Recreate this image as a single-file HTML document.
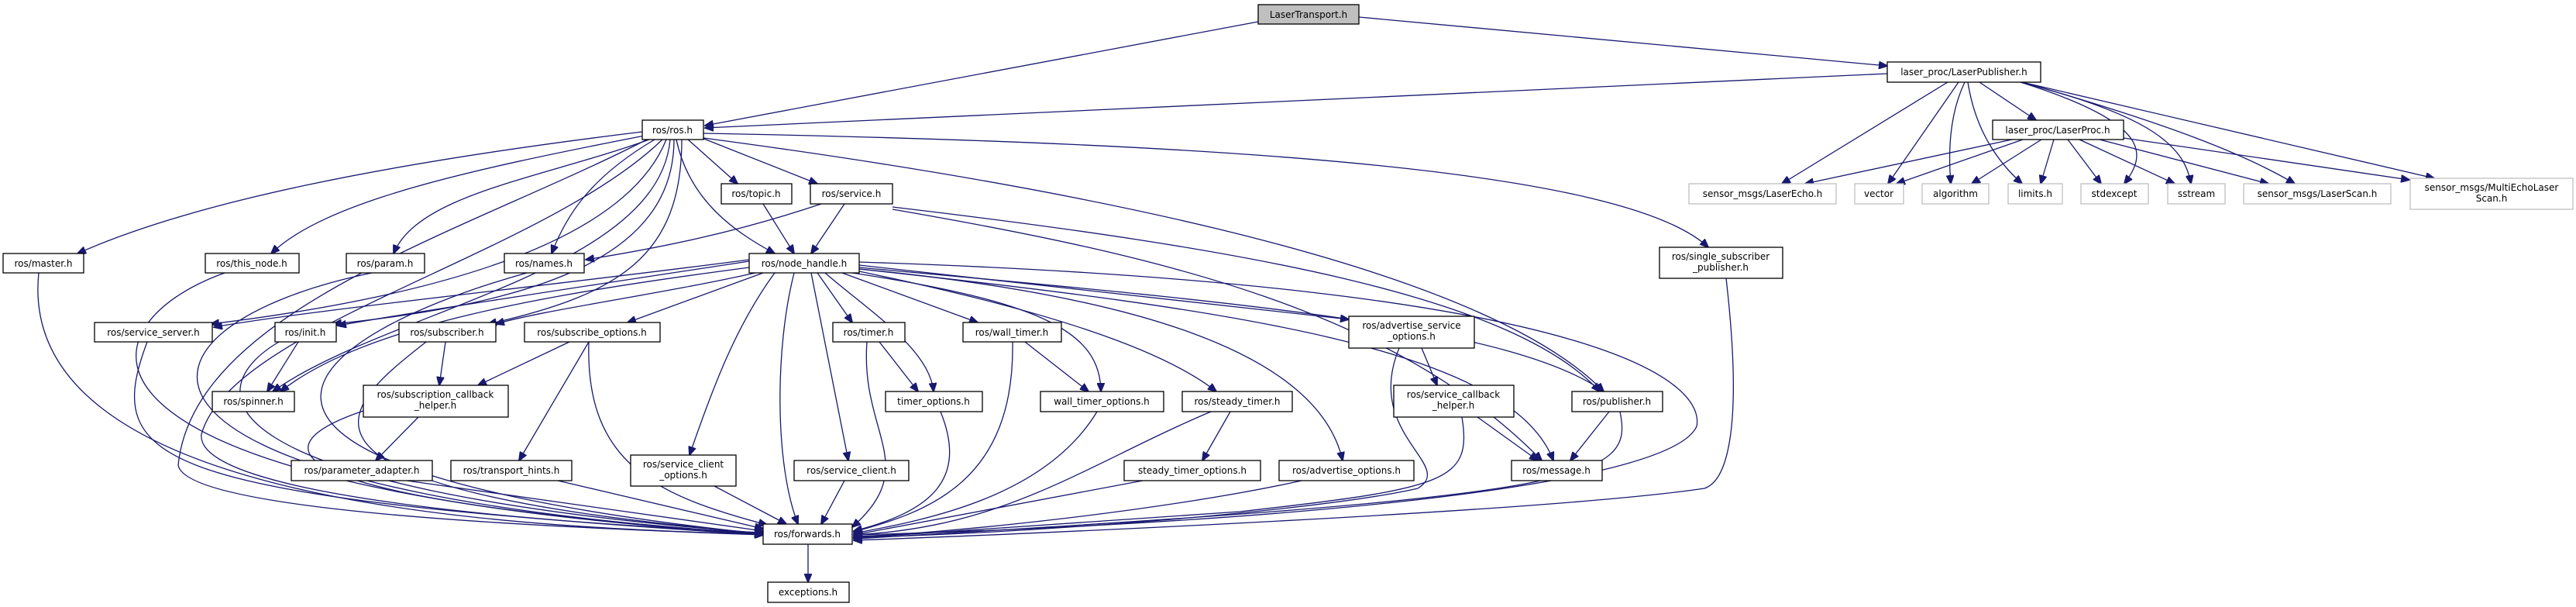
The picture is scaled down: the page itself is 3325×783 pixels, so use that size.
<!DOCTYPE html>
<html><head><meta charset="utf-8">
<style>
html,body{margin:0;padding:0;background:#fff;}
svg{display:block;}
text{font-family:"DejaVu Sans","Liberation Sans",sans-serif;font-size:12px;fill:#000;text-anchor:middle;}
.n{fill:#fff;stroke:#000;stroke-width:1.3;}
.g{fill:#fff;stroke:#bfbfbf;stroke-width:1.3;}
.r{fill:#bfbfbf;stroke:#000;stroke-width:1.3;}
path{fill:none;stroke:#191970;stroke-width:1.3;marker-end:url(#a);}
</style></head><body>
<svg width="3325" height="783" viewBox="0 0 3325 783" xmlns="http://www.w3.org/2000/svg">
<defs><marker id="a" markerUnits="userSpaceOnUse" markerWidth="12" markerHeight="10" refX="11" refY="5" orient="auto"><polygon points="0,0 12,5 0,10" fill="#191970" stroke="#191970"/></marker></defs>

<!-- edges -->
<path d="M1624 28 L910 162"/>
<path d="M1754 22 L2436 85"/>
<path d="M2436 95 C1800 120,1200 150,910 165"/>
<path d="M908 172 C1600 185,2100 220,2205 319"/>
<path d="M908 178 C1300 230,1900 330,2070 505"/>
<path d="M829 170 C500 210,250 260,100 327"/>
<path d="M832 175 C600 220,420 260,350 327"/>
<path d="M838 180 C700 230,540 250,508 327"/>
<path d="M845 180 C760 230,730 280,712 327"/>
<path d="M860 180 C800 330,500 390,272 418"/>
<path d="M870 180 C870 330,700 390,430 418"/>
<path d="M880 180 C880 330,800 380,630 418"/>
<path d="M873 180 C890 260,950 300,1000 327"/>
<path d="M888 180 L952 237"/>
<path d="M906 178 L1055 237"/>
<path d="M865 180 C850 350,500 400,352 505"/>
<path d="M835 180 C600 300,250 400,230 600 C240 660,700 680,985 690"/>
<path d="M855 180 C700 330,300 420,260 560 C250 640,700 675,985 687"/>
<path d="M985 263 L1025 327"/>
<path d="M1090 263 L1047 327"/>
<path d="M1060 263 C950 300,850 320,756 335"/>
<path d="M1152 267 C1600 320,1950 380,2065 505"/>
<path d="M1152 270 C1500 330,1800 400,1990 594"/>
<path d="M967 335 C700 370,400 400,276 422"/>
<path d="M967 337 C750 370,550 400,436 420"/>
<path d="M967 345 C700 380,470 420,362 505"/>
<path d="M975 352 C850 380,700 400,640 418"/>
<path d="M985 352 L810 416"/>
<path d="M1000 352 C950 420,920 500,890 587"/>
<path d="M1025 352 C1000 450,1000 600,1030 676"/>
<path d="M1047 352 L1095 594"/>
<path d="M1055 352 L1100 416"/>
<path d="M1065 352 C1120 400,1200 450,1205 505"/>
<path d="M1087 352 L1262 416"/>
<path d="M1100 352 C1350 390,1420 430,1421 505"/>
<path d="M1109 350 C1350 400,1500 450,1570 505"/>
<path d="M1109 347 C1450 380,1700 450,1733 594"/>
<path d="M1109 342 L1741 412"/>
<path d="M1109 345 C1600 390,1950 420,2070 505"/>
<path d="M1109 347 C1600 400,1950 450,2005 594"/>
<path d="M1109 338 C2100 370,2200 500,2190 550 C2150 640,1500 680,1102 690"/>
<path d="M50 352 C20 640,600 680,985 689"/>
<path d="M290 352 C100 420,40 630,985 689"/>
<path d="M480 352 C150 420,80 630,985 689"/>
<path d="M680 352 C400 430,150 600,985 689"/>
<path d="M190 441 C130 600,200 640,985 690"/>
<path d="M385 441 L345 505"/>
<path d="M360 441 C260 500,240 630,985 688"/>
<path d="M575 441 L567 497"/>
<path d="M550 441 C450 520,300 630,985 688"/>
<path d="M735 441 L617 497"/>
<path d="M760 441 L670 594"/>
<path d="M760 441 C755 600,850 640,990 677"/>
<path d="M540 538 L485 594"/>
<path d="M469 530 C350 570,300 640,985 689"/>
<path d="M525 620 L985 685"/>
<path d="M720 620 L985 682"/>
<path d="M922 627 L1015 676"/>
<path d="M1090 620 L1060 676"/>
<path d="M1135 441 L1185 505"/>
<path d="M1119 441 C1110 560,1190 600,1100 680"/>
<path d="M1214 531 C1250 620,1200 660,1102 685"/>
<path d="M1323 441 L1405 505"/>
<path d="M1307 441 C1310 620,1200 660,1102 686"/>
<path d="M1416 531 C1350 640,1200 670,1102 688"/>
<path d="M1588 531 L1552 594"/>
<path d="M1563 531 C1400 600,1300 680,1102 690"/>
<path d="M1475 620 L1102 690"/>
<path d="M1680 620 C1500 660,1200 690,1102 692"/>
<path d="M1835 449 L1855 497"/>
<path d="M1806 449 C1760 560,1880 600,1830 630 C1700 660,1300 690,1102 693"/>
<path d="M1907 538 L1985 594"/>
<path d="M1887 538 C1900 620,1870 630,1600 660 L1102 694"/>
<path d="M2077 531 L2027 594"/>
<path d="M2091 531 C2110 620,2050 640,1102 695"/>
<path d="M2228 359 C2250 550,2230 620,2200 630 C2000 660,1300 690,1102 697"/>
<path d="M1043 702 L1043 751"/>
<path d="M2514 106 L2300 237"/>
<path d="M2528 106 L2437 237"/>
<path d="M2536 106 C2515 150,2515 200,2518 237"/>
<path d="M2540 106 C2550 170,2580 210,2610 237"/>
<path d="M2555 106 L2628 155"/>
<path d="M2608 106 C2780 160,2770 200,2742 237"/>
<path d="M2608 106 C2780 150,2820 190,2828 237"/>
<path d="M2610 106 C2800 160,2900 200,2962 237"/>
<path d="M2610 106 L3142 230"/>
<path d="M2597 180 L2330 237"/>
<path d="M2611 180 L2448 237"/>
<path d="M2635 180 L2545 237"/>
<path d="M2651 180 L2634 237"/>
<path d="M2669 180 L2712 237"/>
<path d="M2684 180 L2807 237"/>
<path d="M2710 180 L2928 237"/>
<path d="M2741 178 L3110 232"/>

<!-- nodes -->
<rect class="r" x="1624" y="6" width="130" height="25"/><text x="1689" y="23">LaserTransport.h</text>
<rect class="n" x="2436" y="80" width="198" height="26"/><text x="2535" y="97">laser_proc/LaserPublisher.h</text>
<rect class="n" x="829" y="155" width="79" height="25"/><text x="868" y="172">ros/ros.h</text>
<rect class="n" x="2572" y="155" width="169" height="25"/><text x="2656" y="172">laser_proc/LaserProc.h</text>
<rect class="n" x="931" y="237" width="91" height="26"/><text x="976" y="254">ros/topic.h</text>
<rect class="n" x="1046" y="237" width="106" height="26"/><text x="1099" y="254">ros/service.h</text>
<rect class="g" x="2180" y="237" width="190" height="26"/><text x="2275" y="254">sensor_msgs/LaserEcho.h</text>
<rect class="g" x="2394" y="237" width="63" height="26"/><text x="2425" y="254">vector</text>
<rect class="g" x="2481" y="237" width="86" height="26"/><text x="2524" y="254">algorithm</text>
<rect class="g" x="2592" y="237" width="70" height="26"/><text x="2627" y="254">limits.h</text>
<rect class="g" x="2686" y="237" width="87" height="26"/><text x="2729" y="254">stdexcept</text>
<rect class="g" x="2798" y="237" width="74" height="26"/><text x="2835" y="254">sstream</text>
<rect class="g" x="2896" y="237" width="190" height="26"/><text x="2991" y="254">sensor_msgs/LaserScan.h</text>
<rect class="g" x="3111" y="230" width="210" height="40"/><text x="3216" y="246">sensor_msgs/MultiEchoLaser</text><text x="3216" y="260">Scan.h</text>
<rect class="n" x="4" y="327" width="104" height="25"/><text x="56" y="344">ros/master.h</text>
<rect class="n" x="265" y="327" width="121" height="25"/><text x="325" y="344">ros/this_node.h</text>
<rect class="n" x="447" y="327" width="101" height="25"/><text x="497" y="344">ros/param.h</text>
<rect class="n" x="651" y="327" width="103" height="25"/><text x="702" y="344">ros/names.h</text>
<rect class="n" x="967" y="327" width="142" height="25"/><text x="1038" y="344">ros/node_handle.h</text>
<rect class="n" x="2142" y="319" width="159" height="40"/><text x="2221" y="335">ros/single_subscriber</text><text x="2221" y="349">_publisher.h</text>
<rect class="n" x="122" y="416" width="152" height="25"/><text x="198" y="433">ros/service_server.h</text>
<rect class="n" x="355" y="416" width="79" height="25"/><text x="394" y="433">ros/init.h</text>
<rect class="n" x="515" y="416" width="125" height="25"/><text x="577" y="433">ros/subscriber.h</text>
<rect class="n" x="677" y="416" width="175" height="25"/><text x="764" y="433">ros/subscribe_options.h</text>
<rect class="n" x="1075" y="416" width="93" height="25"/><text x="1121" y="433">ros/timer.h</text>
<rect class="n" x="1243" y="416" width="127" height="25"/><text x="1306" y="433">ros/wall_timer.h</text>
<rect class="n" x="1741" y="408" width="162" height="41"/><text x="1822" y="424">ros/advertise_service</text><text x="1822" y="438">_options.h</text>
<rect class="n" x="274" y="505" width="106" height="26"/><text x="327" y="522">ros/spinner.h</text>
<rect class="n" x="1143" y="505" width="125" height="26"/><text x="1205" y="522">timer_options.h</text>
<rect class="n" x="1343" y="505" width="159" height="26"/><text x="1422" y="522">wall_timer_options.h</text>
<rect class="n" x="1526" y="505" width="142" height="26"/><text x="1597" y="522">ros/steady_timer.h</text>
<rect class="n" x="2029" y="505" width="117" height="26"/><text x="2087" y="522">ros/publisher.h</text>
<rect class="n" x="469" y="497" width="187" height="41"/><text x="562" y="513">ros/subscription_callback</text><text x="562" y="527">_helper.h</text>
<rect class="n" x="1799" y="497" width="155" height="41"/><text x="1876" y="513">ros/service_callback</text><text x="1876" y="527">_helper.h</text>
<rect class="n" x="376" y="594" width="182" height="26"/><text x="467" y="611">ros/parameter_adapter.h</text>
<rect class="n" x="582" y="594" width="156" height="26"/><text x="660" y="611">ros/transport_hints.h</text>
<rect class="n" x="814" y="587" width="136" height="40"/><text x="882" y="603">ros/service_client</text><text x="882" y="617">_options.h</text>
<rect class="n" x="1025" y="594" width="148" height="26"/><text x="1099" y="611">ros/service_client.h</text>
<rect class="n" x="1451" y="594" width="176" height="26"/><text x="1539" y="611">steady_timer_options.h</text>
<rect class="n" x="1651" y="594" width="174" height="26"/><text x="1738" y="611">ros/advertise_options.h</text>
<rect class="n" x="1951" y="594" width="117" height="26"/><text x="2009" y="611">ros/message.h</text>
<rect class="n" x="985" y="676" width="115" height="26"/><text x="1042" y="693">ros/forwards.h</text>
<rect class="n" x="991" y="751" width="105" height="26"/><text x="1043" y="768">exceptions.h</text>
</svg>
</body></html>
